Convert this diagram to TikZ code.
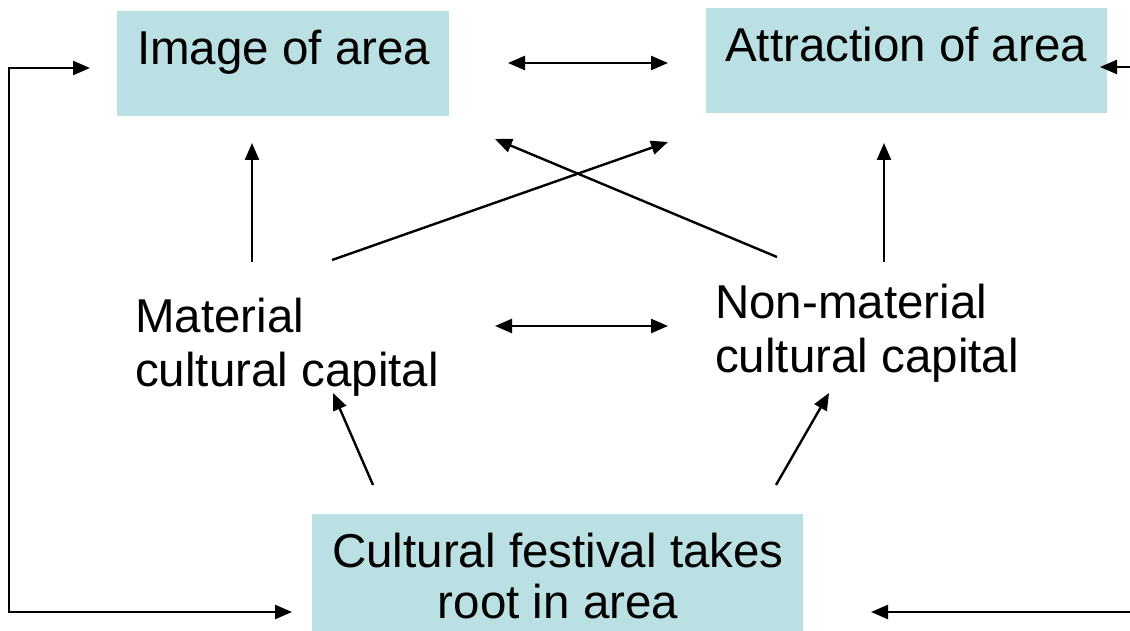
\documentclass[tikz,border=0pt]{standalone}
\usepackage{fontspec}
\setmainfont{Liberation Sans}
\usetikzlibrary{arrows.meta}
\definecolor{boxblue}{RGB}{186,224,227}
\tikzset{
  boxstyle/.style={fill=boxblue, draw=none, inner sep=0pt, anchor=north west},
  lbl/.style={inner sep=0pt, font=\fontsize{47.5}{54}\selectfont},
  conn/.style={line width=2.4pt, -{Triangle[length=17pt,width=14pt]}},
  dconn/.style={line width=2.4pt, {Triangle[length=17pt,width=14pt]}-{Triangle[length=17pt,width=14pt]}},
}
\begin{document}
\begin{tikzpicture}[x=1pt,y=-1pt]
\useasboundingbox (0,0) rectangle (1130,631);
% boxes
\node[boxstyle, minimum width=332pt, minimum height=105pt] (imgbox) at (117,11) {};
\node[boxstyle, minimum width=401pt, minimum height=105pt] (attbox) at (706,8) {};
\node[boxstyle, minimum width=491pt, minimum height=120pt] (fesbox) at (312,514) {};
% texts
\node[lbl, anchor=base west] (img) at (137,65) {Image of area};
\node[lbl, anchor=base west] (att) at (725,62) {Attraction of area};
\node[lbl, anchor=base west, align=left] (mat) at (135,386) {Material\\cultural capital};
\node[lbl, anchor=base west, align=left] (non) at (715,372) {Non-material\\cultural capital};
\node[lbl, anchor=base, align=center, font=\fontsize{47.5}{51}\selectfont] (fes) at (558,618) {Cultural festival takes\\root in area};
% connector end points
\coordinate (imgR) at (508,63);
\coordinate (attL) at (668,63);
\coordinate (matR) at (495,326);
\coordinate (nonL) at (668,326);
\coordinate (imgB) at (252,143);
\coordinate (matT) at (252,262);
\coordinate (attB) at (884,143);
\coordinate (nonT) at (884,262);
\coordinate (matX) at (332,260);
\coordinate (attX) at (668,142);
\coordinate (nonX) at (777,257);
\coordinate (imgX) at (495,139);
\coordinate (fesL) at (373,485);
\coordinate (matB) at (333,393);
\coordinate (fesR) at (776,485);
\coordinate (nonB) at (829,393);
\coordinate (imgIn) at (90,68);
\coordinate (fesIn) at (292,612);
\coordinate (attIn) at (1100,67);
\coordinate (fesInR) at (871,612);
% connectors
\draw[dconn] (imgR) -- (attL);
\draw[dconn] (matR) -- (nonL);
\draw[conn] (matT) -- (imgB);
\draw[conn] (nonT) -- (attB);
\draw[conn] (matX) -- (attX);
\draw[conn] (nonX) -- (imgX);
\draw[conn] (fesL) -- (matB);
\draw[conn] (fesR) -- (nonB);
\draw[dconn] (imgIn) -| (9,612) -- (fesIn);
\draw[dconn] (attIn) -| (1140,612) -- (fesInR);
\end{tikzpicture}
\end{document}
